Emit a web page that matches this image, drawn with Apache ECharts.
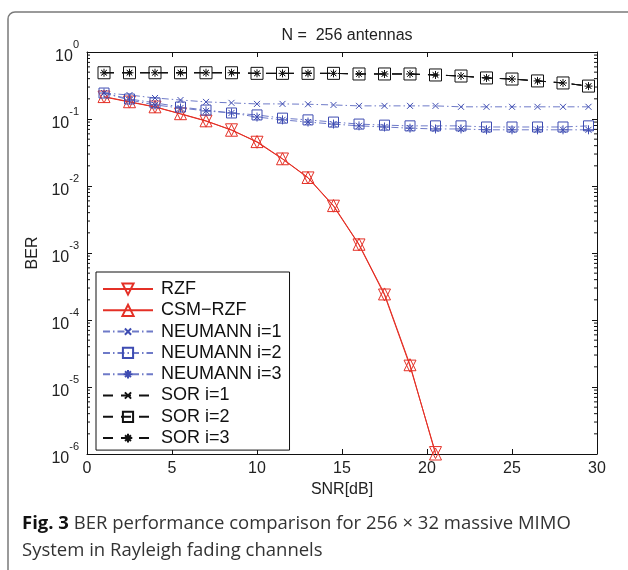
<!DOCTYPE html>
<html>
<head>
<meta charset="utf-8">
<script src="https://cdn.jsdelivr.net/npm/echarts@6/dist/echarts.min.js"></script>
<style>html,body{margin:0;padding:0;background:#fff}#c{width:628px;height:570px}</style>
</head>
<body>
<div id="c"></div>
<script>
// ---- data ----
const snr = [1, 2.5, 4, 5.5, 7, 8.5, 10, 11.5, 13, 14.5, 16, 17.5, 19, 20.5, 22, 23.5, 25, 26.5, 28, 29.5];
const rzf = [0.213, 0.179, 0.151, 0.119, 0.093, 0.069, 0.045, 0.0253, 0.0132, 0.0050, 0.00132, 2.36e-4, 2.05e-5, 1.05e-6];
const csmRzf = [0.216, 0.181, 0.152, 0.120, 0.094, 0.068, 0.046, 0.0255, 0.0134, 0.0051, 0.00135, 2.45e-4, 2.15e-5, 1.0e-6];
const neumann1 = [0.244, 0.228, 0.206, 0.192, 0.180, 0.174, 0.168, 0.168, 0.166, 0.162, 0.157, 0.157, 0.157, 0.157, 0.152, 0.152, 0.152, 0.152, 0.152, 0.152];
const neumann2 = [0.244, 0.199, 0.174, 0.151, 0.136, 0.123, 0.115, 0.103, 0.097, 0.090, 0.084, 0.081, 0.079, 0.079, 0.079, 0.076, 0.076, 0.076, 0.076, 0.079];
const neumann3 = [0.244, 0.192, 0.162, 0.146, 0.132, 0.123, 0.107, 0.097, 0.090, 0.084, 0.079, 0.076, 0.073, 0.071, 0.071, 0.069, 0.069, 0.069, 0.069, 0.069];
const sor1 = [0.49, 0.49, 0.49, 0.49, 0.49, 0.49, 0.48, 0.48, 0.48, 0.48, 0.47, 0.47, 0.47, 0.454, 0.438, 0.41, 0.395, 0.37, 0.345, 0.31];
const sor2 = [0.49, 0.49, 0.49, 0.49, 0.49, 0.49, 0.48, 0.48, 0.48, 0.48, 0.47, 0.47, 0.47, 0.454, 0.438, 0.41, 0.395, 0.37, 0.345, 0.31];
const sor3 = [0.49, 0.49, 0.49, 0.49, 0.49, 0.49, 0.48, 0.48, 0.48, 0.48, 0.47, 0.47, 0.47, 0.454, 0.438, 0.41, 0.395, 0.37, 0.345, 0.31];
const xTicks = [0, 5, 10, 15, 20, 25, 30];
const yDecades = [-6, -5, -4, -3, -2, -1, 0];
const titleText = 'N =  256 antennas';
const xName = 'SNR[dB]';
const yName = 'BER';
const captionBold = 'Fig. 3';
const captionLine1 = ' BER performance comparison for 256 × 32 massive MIMO';
const captionLine2 = 'System in Rayleigh fading channels';
const legendNames = ['RZF', 'CSM\u2212RZF', 'NEUMANN i=1', 'NEUMANN i=2', 'NEUMANN i=3', 'SOR i=1', 'SOR i=2', 'SOR i=3'];

// ---- styling ----
const RED = 'rgb(228,48,38)';
const BLUE = 'rgb(62,76,178)';
const BLUE_L = 'rgb(110,122,200)';
const BLK = '#111';
const FONT = '"Liberation Sans", Arial, sans-serif';

// symbol paths, padded with invisible move-to points so the legend draws them smaller
const P_X = 'path://M-4,-4M14,14M0,0L10,10M10,0L0,10';
const P_AST = 'path://M-1.5,-1.5M11.5,11.5M5,0L5,10M0,5L10,5M1.6,1.6L8.4,8.4M8.4,1.6L1.6,8.4';
const P_SQ = 'path://M-0.5,-0.5M10.5,10.5M0,0L10,0L10,10L0,10Z';
const P_TU = 'path://M5,0L10,9L0,9Z';
const P_TD = 'path://M0,0L10,0L5,9Z';

function pairs(vals) { return vals.map((v, i) => [snr[i], v]); }

function mk(name, vals, color, lineColor, symbol, size, dash, lw, z) {
  return {
    name, type: 'line', data: pairs(vals), symbol, symbolSize: size,
    showAllSymbol: true, z,
    itemStyle: { color: 'none', borderColor: color, borderWidth: 1 },
    lineStyle: { color: lineColor, width: lw, type: dash },
    emphasis: { disabled: true }, animation: false
  };
}

// minor ticks on log axis
const minor = [];
for (let e = -6; e < 0; e++) for (let m = 2; m <= 9; m++) minor.push([0, m * Math.pow(10, e)]);

const DD = [7, 3, 1.5, 3];
const series = [
  mk(legendNames[0], rzf, RED, RED, P_TD, 12, 'solid', 1, 3),
  mk(legendNames[1], csmRzf, RED, RED, P_TU, 12, 'solid', 1, 3),
  mk(legendNames[2], neumann1, BLUE, BLUE_L, P_X, 10.8, DD, 1, 4),
  mk(legendNames[3], neumann2, BLUE, BLUE_L, P_SQ, 11, DD, 1, 4),
  mk(legendNames[4], neumann3, BLUE, BLUE_L, P_AST, 11.7, DD, 1, 4),
  mk(legendNames[5], sor1, BLK, BLK, P_X, 9, [10, 8], 1, 5),
  mk(legendNames[6], sor2, BLK, BLK, P_SQ, 13.2, [10, 8], 1, 5),
  mk(legendNames[7], sor3, BLK, BLK, P_AST, 10.4, [10, 8], 1, 5),
  {
    type: 'custom', data: minor, silent: true, z: 2, animation: false,
    renderItem: function (params, api) {
      const p = api.coord([0, api.value(1)]);
      const cs = params.coordSys;
      return {
        type: 'group', children: [
          { type: 'line', shape: { x1: cs.x, y1: p[1], x2: cs.x + 3, y2: p[1] }, style: { stroke: BLK, lineWidth: 1 } },
          { type: 'line', shape: { x1: cs.x + cs.width - 3, y1: p[1], x2: cs.x + cs.width, y2: p[1] }, style: { stroke: BLK, lineWidth: 1 } }
        ]
      };
    }
  }
];

const chart = echarts.init(document.getElementById('c'), null, { renderer: 'canvas' });
chart.setOption({
  animation: false,
  backgroundColor: '#fff',
  title: {
    text: titleText, left: 342, top: 23, textAlign: 'center',
    textStyle: { fontFamily: FONT, fontSize: 16, fontWeight: 'normal', color: '#222' }
  },
  grid: { left: 87, right: 31, top: 52, bottom: 116, containLabel: false },
  xAxis: [{
    type: 'value', min: 0, max: 30, interval: 5, position: 'bottom',
    name: xName, nameLocation: 'middle', nameGap: 25,
    nameTextStyle: { fontFamily: FONT, fontSize: 16, color: '#222' },
    axisLine: { show: true, onZero: false, lineStyle: { color: BLK, width: 1 } },
    axisTick: { show: true, inside: true, length: 5, lineStyle: { color: BLK } },
    axisLabel: { fontFamily: FONT, fontSize: 16, color: '#222', margin: 7 },
    splitLine: { show: false }
  }, {
    type: 'value', min: 0, max: 30, interval: 5, position: 'top',
    axisLine: { show: true, onZero: false, lineStyle: { color: BLK, width: 1 } },
    axisTick: { show: true, inside: true, length: 5, lineStyle: { color: BLK } },
    axisLabel: { show: false }, splitLine: { show: false }
  }],
  yAxis: [{
    type: 'log', logBase: 10, min: 1e-6, max: 1, position: 'left',
    name: yName, nameLocation: 'middle', nameGap: 38, nameRotate: 90,
    nameTextStyle: { fontFamily: FONT, fontSize: 16, color: '#222' },
    axisLine: { show: true, onZero: false, lineStyle: { color: BLK, width: 1 } },
    axisTick: { show: true, inside: true, length: 5, lineStyle: { color: BLK } },
    axisLabel: {
      margin: 8, color: '#222',
      formatter: function (v) { const e = Math.round(Math.log10(v)); return '{b|10}{s|' + e + '}'; },
      rich: {
        b: { fontFamily: FONT, fontSize: 16, color: '#222', verticalAlign: 'bottom', lineHeight: 18 },
        s: { fontFamily: FONT, fontSize: 11, color: '#222', verticalAlign: 'top', lineHeight: 26 }
      }
    },
    splitLine: { show: false }
  }, {
    type: 'log', logBase: 10, min: 1e-6, max: 1, position: 'right',
    axisLine: { show: true, onZero: false, lineStyle: { color: BLK, width: 1 } },
    axisTick: { show: true, inside: true, length: 5, lineStyle: { color: BLK } },
    axisLabel: { show: false }, splitLine: { show: false }
  }],
  legend: {
    orient: 'vertical', left: 96, top: 272,
    padding: [8, 8, 3, 6], itemGap: 3.3, itemWidth: 50, itemHeight: 14,
    backgroundColor: '#fff', borderColor: BLK, borderWidth: 1, borderRadius: 0,
    textStyle: { fontFamily: FONT, fontSize: 18, color: '#111', padding: [0, 0, 0, 3] },
    selectedMode: false,
    data: legendNames
  },
  graphic: [
    { type: 'rect', shape: { x: 8, y: 12, width: 700, height: 640, r: 7 }, style: { fill: 'none', stroke: '#7a7a7a', lineWidth: 1.5 }, z: -1, silent: true },
    { type: 'text', left: 22, top: 514, style: {
        text: '{b|' + captionBold + '}{n|' + captionLine1 + '}',
        rich: {
          b: { fontFamily: '"Open Sans", sans-serif', fontWeight: 'bold', fontSize: 18.5, fill: '#111' },
          n: { fontFamily: '"Open Sans", sans-serif', fontSize: 18.5, fill: '#333' }
        }
      }, silent: true },
    { type: 'text', left: 22, top: 541, style: {
        text: captionLine2, fontFamily: '"Open Sans", sans-serif', fontSize: 18.5, fill: '#333'
      }, silent: true }
  ],
  series: series
});
</script>
</body>
</html>
